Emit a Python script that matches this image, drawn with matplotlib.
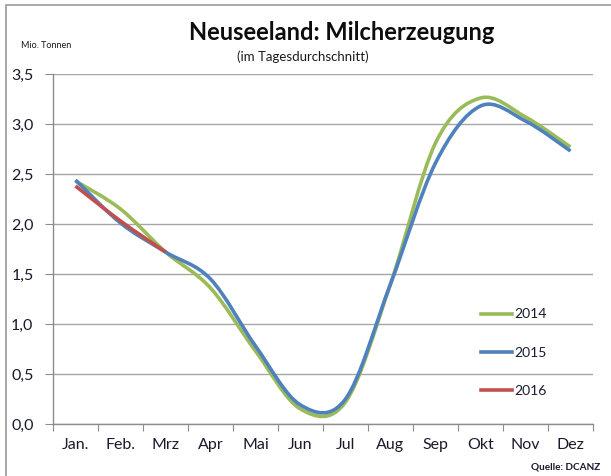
import matplotlib
matplotlib.use("Agg")
import matplotlib.pyplot as plt
from matplotlib.path import Path
from matplotlib.patches import PathPatch, Rectangle
from matplotlib.lines import Line2D
import numpy as np

months = ["Jan.", "Feb.", "Mrz", "Apr", "Mai", "Jun", "Jul", "Aug", "Sep", "Okt", "Nov", "Dez"]
milk_2014 = [2.43, 2.15, 1.72, 1.36, 0.73, 0.15, 0.22, 1.40, 2.81, 3.26, 3.07, 2.77]
milk_2015 = [2.44, 2.01, 1.72, 1.45, 0.78, 0.19, 0.25, 1.40, 2.61, 3.18, 3.03, 2.73]
milk_2016 = [2.38, 2.03, 1.72]
yticks = [0.0, 0.5, 1.0, 1.5, 2.0, 2.5, 3.0, 3.5]
ytick_labels = ["0,0", "0,5", "1,0", "1,5", "2,0", "2,5", "3,0", "3,5"]

series = [("2014", milk_2014, "#9BBB59"), ("2015", milk_2015, "#4F81BD"), ("2016", milk_2016, "#C0504D")]

FONT = "Lato"
text_col = "#1a1a2e"

fig = plt.figure(figsize=(6.11, 4.76), dpi=100)
ax = fig.add_axes([53/611, 1-424/476, 540/611, 350/476])

def smooth_path(y):
    x = np.arange(len(y), dtype=float)
    y = np.asarray(y, dtype=float)
    n = len(y)
    verts = [(x[0], y[0])]
    codes = [Path.MOVETO]
    for i in range(n - 1):
        xm, ym = (x[i-1], y[i-1]) if i > 0 else (x[i], y[i])
        xp, yp = (x[i+2], y[i+2]) if i + 2 < n else (x[i+1], y[i+1])
        c1 = (x[i] + (x[i+1] - xm) / 6, y[i] + (y[i+1] - ym) / 6)
        c2 = (x[i+1] - (xp - x[i]) / 6, y[i+1] - (yp - y[i]) / 6)
        verts += [c1, c2, (x[i+1], y[i+1])]
        codes += [Path.CURVE4] * 3
    return Path(verts, codes)

handles = []
for name, vals, col in series:
    patch = PathPatch(smooth_path(vals), facecolor="none", edgecolor=col, lw=2.6,
                      capstyle="butt", joinstyle="round", zorder=3)
    ax.add_patch(patch)
    handles.append(Line2D([], [], color=col, lw=2.6, label=name))

ax.set_xlim(-0.5, 11.5)
ax.set_ylim(0, 3.5)
ax.set_yticks(yticks)
ax.set_yticklabels(ytick_labels, fontfamily=FONT, fontsize=11.5, color=text_col)
ax.yaxis.grid(True, color="#a6a6a6", lw=1.0)
ax.set_axisbelow(True)

ax.set_xticks(np.arange(-0.5, 12, 1.0))
ax.set_xticklabels([])
ax.set_xticks(np.arange(12), minor=True)
ax.set_xticklabels(months, minor=True, fontfamily=FONT, fontsize=11.5, color=text_col)
ax.tick_params(axis="x", which="minor", length=0, pad=10)
ax.tick_params(axis="x", which="major", length=5, color="#8c8c8c", direction="out")
ax.tick_params(axis="y", length=6, color="#8c8c8c", direction="out", pad=8)

for s in ["top", "right"]:
    ax.spines[s].set_visible(False)
for s in ["left", "bottom"]:
    ax.spines[s].set_color("#8c8c8c")
    ax.spines[s].set_linewidth(1.0)

leg = ax.legend(handles=handles, loc="upper left", bbox_to_anchor=(415/540, 1-(296-74)/350),
                frameon=False, handlelength=2.3, handletextpad=0.1, labelspacing=1.9,
                prop={"family": FONT, "size": 10})
for t in leg.get_texts():
    t.set_color(text_col)

fig.text(342/611, 1-33/476, "Neuseeland: Milcherzeugung", ha="center", va="center",
         fontfamily=FONT, fontweight="bold", fontsize=17, color="#0d0d0d")
fig.text(303/611, 1-57/476, "(im Tagesdurchschnitt)", ha="center", va="center",
         fontfamily=FONT, fontsize=9.5, color="#1a1a1a")
fig.text(21/611, 1-45/476, "Mio. Tonnen", ha="left", va="center",
         fontfamily=FONT, fontsize=6.5, color="#1a1a1a")
fig.text(600/611, 1-467/476, "Quelle: DCANZ", ha="right", va="center",
         fontfamily=FONT, fontsize=7.2, fontweight="bold", color="#1a1a2e")

fig.patches.append(Rectangle((6/611, -0.05), 1.2, 1 - 5/476 + 0.05, transform=fig.transFigure,
                             facecolor="none", edgecolor="#9a9a9a", lw=1.2, zorder=0))

fig.savefig("out.png", dpi=100)
